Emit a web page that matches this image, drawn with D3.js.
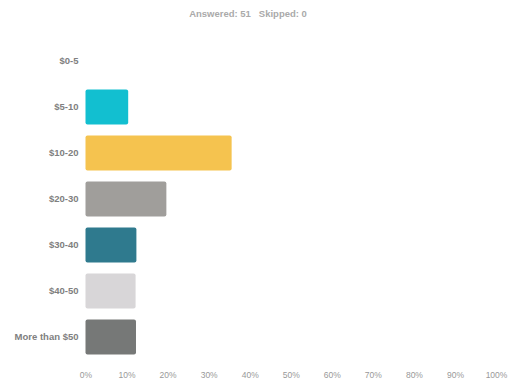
<!DOCTYPE html>
<html><head><meta charset="utf-8">
<script src="https://cdn.jsdelivr.net/npm/d3@7"></script>
<style>body{margin:0;background:#fff;} svg{display:block;font-family:"Liberation Sans",Arial,sans-serif;}</style>
</head><body>
<script>
const title = "Answered: 51   Skipped: 0";
const categories = ["$0-5", "$5-10", "$10-20", "$20-30", "$30-40", "$40-50", "More than $50"];
const values = [0, 10.4, 35.6, 19.7, 12.4, 12.2, 12.3];
const colors = ["#12bfd0", "#12bfd0", "#f5c34f", "#a09e9b", "#2f7a8e", "#d8d6d8", "#767877"];
const tickValues = [0, 10, 20, 30, 40, 50, 60, 70, 80, 90, 100];

const W = 514, H = 387;
const svg = d3.select("body").append("svg").attr("width", W).attr("height", H);

const x = d3.scaleLinear().domain([0, 100]).range([85.5, 496]);
const y = d3.scaleBand().domain(categories).range([38, 360]).paddingInner(0.24).paddingOuter(0.12);

svg.append("text").attr("x", 248).attr("y", 17).attr("text-anchor", "middle")
  .attr("font-size", 9.5).attr("font-weight", "bold").attr("fill", "#aaa")
  .attr("xml:space", "preserve").text(title);

svg.append("g").selectAll("rect").data(values).join("rect")
  .attr("x", x(0)).attr("y", (d, i) => y(categories[i]))
  .attr("width", d => x(d) - x(0)).attr("height", y.bandwidth())
  .attr("rx", 2).attr("fill", (d, i) => colors[i]);

const yAxis = svg.append("g").attr("transform", `translate(${x(0) - 7},0)`)
  .call(d3.axisLeft(y).tickSize(0).tickPadding(0));
yAxis.select(".domain").remove();
yAxis.selectAll("text").attr("font-size", 9.5).attr("font-weight", "bold").attr("fill", "#808080")
  .attr("font-family", "Liberation Sans, Arial, sans-serif");

const xAxis = svg.append("g").attr("transform", `translate(0,372)`)
  .call(d3.axisBottom(x).tickValues(tickValues).tickFormat(d => d + "%").tickSize(0).tickPadding(0));
xAxis.select(".domain").remove();
xAxis.selectAll("text").attr("font-size", 8.5).attr("fill", "#999")
  .attr("font-family", "Liberation Sans, Arial, sans-serif");
</script>
</body></html>
